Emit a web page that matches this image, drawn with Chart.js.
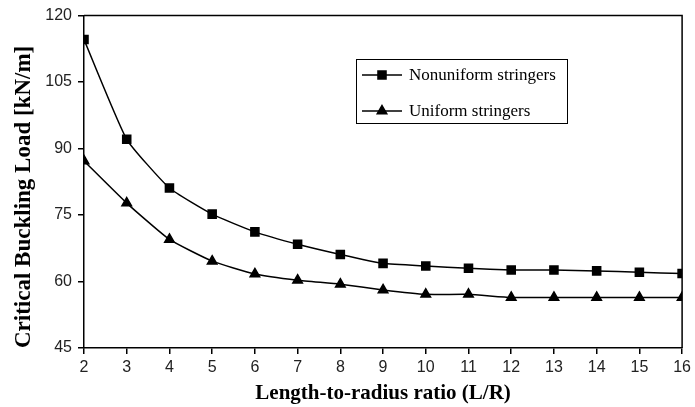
<!DOCTYPE html>
<html>
<head>
<meta charset="utf-8">
<script src="https://cdn.jsdelivr.net/npm/chart.js@4/dist/chart.umd.min.js"></script>
<style>
  html, body { margin: 0; padding: 0; background: #fff; }
  #wrap { width: 695px; height: 407px; }
</style>
</head>
<body>
<div id="wrap"><canvas id="chart" width="695" height="407"></canvas></div>
<script>
// data
const ratios = [2, 3, 4, 5, 6, 7, 8, 9, 10, 11, 12, 13, 14, 15, 16];
const nonuniform = [114.6, 92.1, 81.1, 75.2, 71.2, 68.4, 66.1, 64.1, 63.5, 63.0, 62.6, 62.6, 62.4, 62.1, 61.8];
const uniform = [87.2, 77.7, 69.5, 64.6, 61.7, 60.3, 59.4, 58.1, 57.1, 57.1, 56.4, 56.4, 56.4, 56.4, 56.4];
const yTicks = [45, 60, 75, 90, 105, 120];
const seriesNames = ['Nonuniform stringers', 'Uniform stringers'];

const toPoints = (vals) => vals.map((v, i) => ({ x: ratios[i], y: v }));

// box around plot + legend drawn by hand
const framePlugin = {
    id: 'frame',
    afterDraw(chart) {
        const ctx = chart.ctx;
        const a = chart.chartArea;
        ctx.save();
        ctx.strokeStyle = '#000';
        ctx.lineWidth = 1.5;
        ctx.beginPath();
        ctx.moveTo(a.left, a.top);
        ctx.lineTo(a.right, a.top);
        ctx.lineTo(a.right, a.bottom);
        ctx.stroke();

        // legend
        const bx = 356, by = 59, bw = 211, bh = 64;
        ctx.lineWidth = 1;
        ctx.strokeRect(bx + 0.5, by + 0.5, bw, bh);
        ctx.font = '17px "Liberation Serif", "Times New Roman", serif';
        ctx.fillStyle = '#000';
        ctx.textBaseline = 'middle';
        chart.data.datasets.forEach((ds, i) => {
            const y = by + 16 + i * 36;
            ctx.lineWidth = 1.5;
            ctx.beginPath();
            ctx.moveTo(bx + 6, y);
            ctx.lineTo(bx + 46, y);
            ctx.stroke();
            Chart.helpers.drawPoint(ctx, {
                pointStyle: ds.pointStyle,
                radius: ds.pointRadius,
                borderWidth: 1
            }, bx + 26, y);
            ctx.fill();
            ctx.fillText(ds.label, bx + 53, y + 1);
        });
        ctx.restore();
    }
};

new Chart(document.getElementById('chart'), {
    type: 'line',
    data: {
        datasets: [
            {
                label: seriesNames[0],
                data: toPoints(nonuniform),
                borderColor: '#000',
                backgroundColor: '#000',
                borderWidth: 1.5,
                pointStyle: 'rect',
                pointRadius: 5.7,
                tension: 0.15
            },
            {
                label: seriesNames[1],
                data: toPoints(uniform),
                borderColor: '#000',
                backgroundColor: '#000',
                borderWidth: 1.5,
                pointStyle: 'triangle',
                pointRadius: 5.5,
                tension: 0.15
            }
        ]
    },
    options: {
        responsive: false,
        animation: false,
        layout: { padding: { top: 15, right: 11, left: 0, bottom: 0 } },
        plugins: {
            legend: { display: false },
            tooltip: { enabled: false }
        },
        scales: {
            x: {
                type: 'linear',
                min: 2,
                max: 16,
                afterBuildTicks: (axis) => { axis.ticks = ratios.map(v => ({ value: v })); },
                afterFit: (axis) => { axis.height = 59; },
                grid: { drawOnChartArea: false, tickLength: 6, color: '#000', lineWidth: 1.5 },
                border: { color: '#000', width: 1.5 },
                ticks: {
                    padding: 4,
                    color: '#222',
                    font: { family: '"Liberation Sans", Arial, sans-serif', size: 16 }
                },
                title: {
                    display: true,
                    text: 'Length-to-radius ratio (L/R)',
                    color: '#000',
                    padding: { top: 2, bottom: 1 },
                    font: { family: '"Liberation Serif", "Times New Roman", serif', size: 21, weight: 'bold' }
                }
            },
            y: {
                min: 45,
                max: 120,
                afterBuildTicks: (axis) => { axis.ticks = yTicks.map(v => ({ value: v })); },
                afterFit: (axis) => { axis.width = 84; },
                grid: { drawOnChartArea: false, tickLength: 6, color: '#000', lineWidth: 1.5 },
                border: { color: '#000', width: 1.5 },
                ticks: {
                    padding: 6,
                    color: '#222',
                    font: { family: '"Liberation Sans", Arial, sans-serif', size: 16 }
                },
                title: {
                    display: true,
                    align: 'start',
                    text: 'Critical Buckling Load [kN/m]',
                    color: '#000',
                    padding: { top: 10, bottom: 0 },
                    font: { family: '"Liberation Serif", "Times New Roman", serif', size: 23, weight: 'bold' }
                }
            }
        }
    },
    plugins: [framePlugin]
});
</script>
</body>
</html>
